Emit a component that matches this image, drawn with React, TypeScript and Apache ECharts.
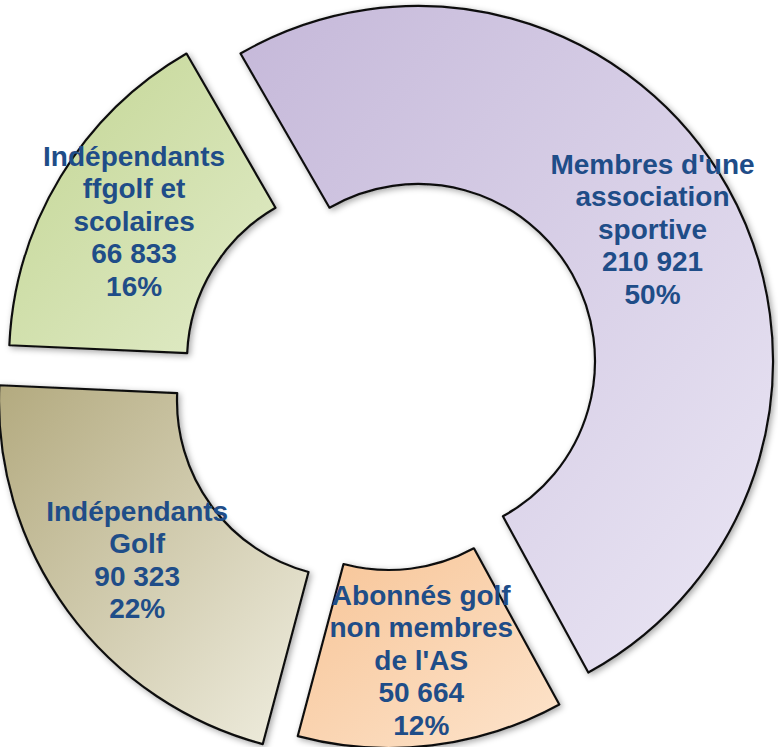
import React, { useEffect, useRef } from "react";
import * as echarts from "echarts";

// ---- data ----
const categories: string[] = [
  "Membres d'une\nassociation\nsportive",
  "Abonnés golf\nnon membres\nde l'AS",
  "Indépendants\nGolf",
  "Indépendants\nffgolf et\nscolaires",
];
const values: number[] = [210921, 50664, 90323, 66833];

// ---- layout / style (exploded slices: each slice has its own centre) ----
const sliceCenters: [number, number][] = [
  [418, 361],
  [389, 393],
  [354, 401],
  [364, 361],
];
const sliceGradients: [string, string][] = [
  ["#c5b8d9", "#ebe7f5"],
  ["#f7c496", "#fde4cc"],
  ["#b3aa7f", "#f0eee0"],
  ["#c2d592", "#e2ecca"],
];

const fmtNumber = (v: number) =>
  String(v).replace(/\B(?=(\d{3})+(?!\d))/g, " ");

export default function App() {
  const ref = useRef<HTMLDivElement>(null);

  useEffect(() => {
    if (!ref.current) return;
    const chart = echarts.init(ref.current, undefined, { renderer: "svg" });

    const series = categories.map((_, si) => ({
      type: "pie",
      center: sliceCenters[si],
      radius: [177, 355],
      startAngle: 120,
      clockwise: true,
      avoidLabelOverlap: false,
      silent: true,
      emphasis: { disabled: true },
      labelLine: { show: false },
      z: 2,
      data: categories.map((name, di) => {
        const visible = di === si;
        return {
          name,
          value: values[di],
          itemStyle: visible
            ? {
                color: new echarts.graphic.LinearGradient(0, 0, 1, 1, [
                  { offset: 0, color: sliceGradients[di][0] },
                  { offset: 1, color: sliceGradients[di][1] },
                ]),
                borderColor: "#111111",
                borderWidth: 2.2,
                shadowBlur: 6,
                shadowColor: "rgba(0,0,0,0.35)",
                shadowOffsetX: 2,
                shadowOffsetY: 2,
              }
            : { color: "rgba(0,0,0,0)", borderWidth: 0 },
          label: visible
            ? {
                show: true,
                position: "inside",
                formatter: (p: any) =>
                  `${p.name}\n${fmtNumber(p.value)}\n${Math.round(p.percent)}%`,
                fontFamily: "Liberation Sans, Arial, sans-serif",
                fontWeight: "bold",
                fontSize: 28,
                lineHeight: 32.5,
                color: "#1f4d88",
                align: "center",
              }
            : { show: false },
        };
      }),
    }));

    chart.setOption({
      animation: false,
      backgroundColor: "#ffffff",
      series,
    });

    return () => chart.dispose();
  }, []);

  return (
    <div
      ref={ref}
      style={{
        position: "fixed",
        left: 0,
        top: 0,
        width: 778,
        height: 747,
        background: "#fff",
      }}
    />
  );
}
